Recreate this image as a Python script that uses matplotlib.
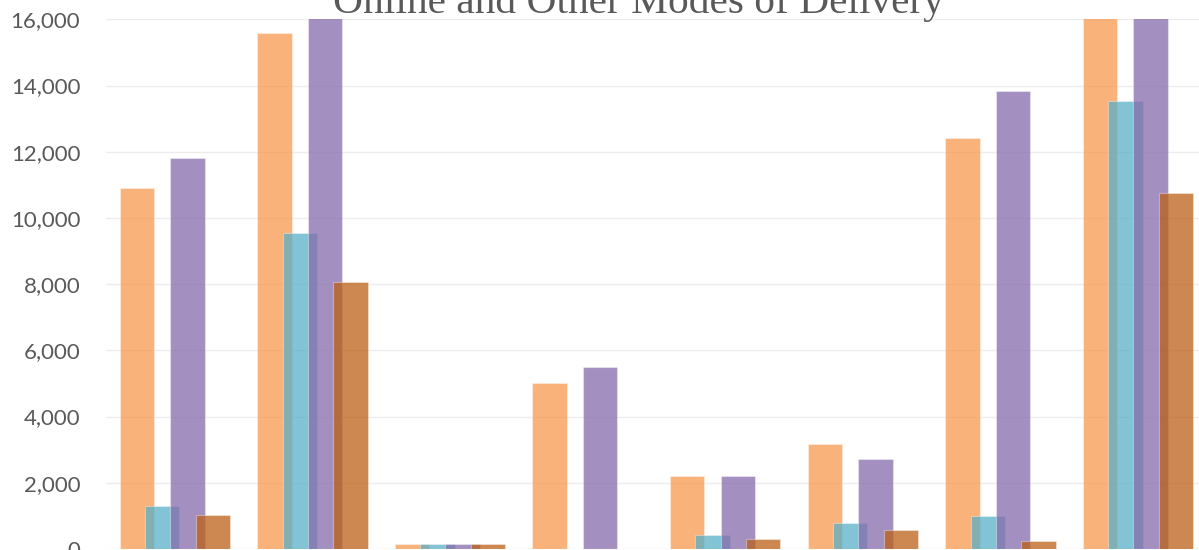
import matplotlib
matplotlib.use("Agg")
import matplotlib.pyplot as plt
import numpy as np

title = "Online and Other Modes of Delivery"
categories = ["C1", "C2", "C3", "C4", "C5", "C6", "C7", "C8"]
series_names = ["Series A", "Series B", "Series C", "Series D"]
series_a = [10900, 15600, 150, 5000, 2200, 3170, 12400, 18500]
series_b = [1300, 9550, 150, 0, 420, 800, 1000, 13530]
series_c = [11800, 17000, 150, 5500, 2200, 2730, 13830, 19500]
series_d = [1030, 8060, 150, 0, 300, 570, 250, 10750]
yticks = [0, 2000, 4000, 6000, 8000, 10000, 12000, 14000, 16000]

series = [series_a, series_b, series_c, series_d]
colors = [(247/255, 152/255, 78/255), (88/255, 176/255, 200/255),
          (134/255, 107/255, 171/255), (187/255, 96/255, 22/255)]
alpha = 0.75

fig = plt.figure(figsize=(11.99, 5.5), dpi=100)
ax = fig.add_axes([106/1199, 1/550, 1100.8/1199, 529.7/550])

x = np.arange(len(categories))
width = 0.25
step = 0.184
offsets = [-1.5, -0.5, 0.5, 1.5]
for vals, col, off in zip(series, colors, offsets):
    ax.bar(x + off * step, vals, width=width,
           color=(*col, alpha), edgecolor=(1, 1, 1, 0.35), linewidth=0.8,
           zorder=3)

ax.set_xlim(-0.5, len(categories) - 0.5)
ax.set_ylim(0, 16000)
ax.set_yticks(yticks)
ax.set_yticklabels([f"{v:,}" for v in yticks], fontsize=16, color="#595959",
                   family="Lato")
ax.tick_params(axis="y", length=0, pad=18.5)
ax.set_xticks([])
ax.grid(axis="y", color="#EDEDED", linewidth=1, zorder=0)
for s in ax.spines.values():
    s.set_visible(False)

fig.text(638/1199, 1 - 13/550, title, ha="center", va="baseline",
         fontsize=29.8, color="#595959", family="Liberation Serif")

fig.savefig("out.png", dpi=100)
